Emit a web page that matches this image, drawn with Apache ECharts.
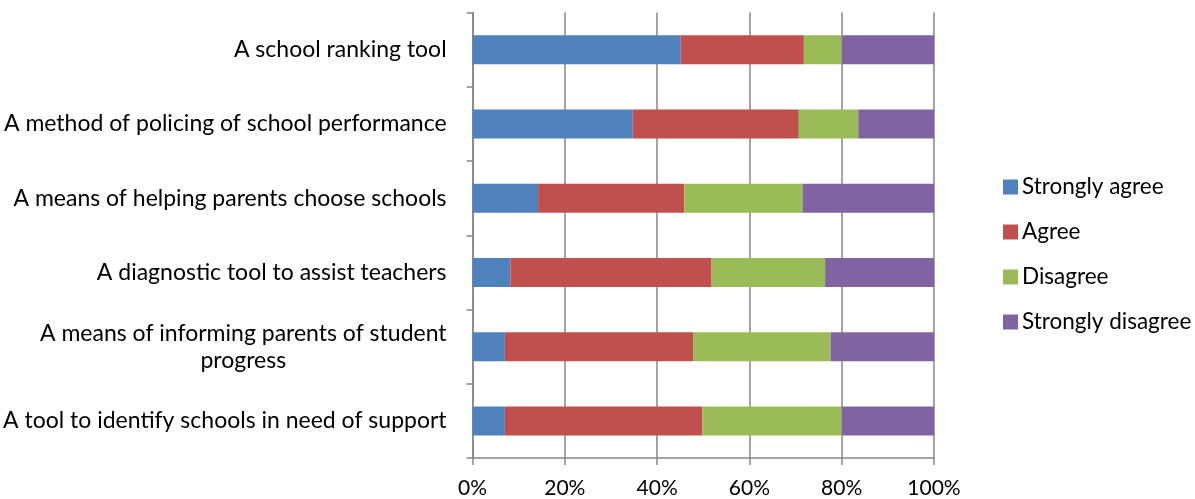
<!DOCTYPE html>
<html>
<head>
<meta charset="utf-8">
<title>School ranking survey</title>
<script src="https://cdn.jsdelivr.net/npm/echarts@6/dist/echarts.min.js"></script>
<style>
    html, body { margin: 0; padding: 0; background: #fff; }
    #chart { width: 1195px; height: 499px; }
</style>
</head>
<body>
<div id="chart"></div>
<script>
// categories, top to bottom
var categories = [
    'A school ranking tool',
    'A method of policing of school performance',
    'A means of helping parents choose schools',
    'A diagnostic tool to assist teachers',
    'A means of informing parents of student\nprogress',
    'A tool to identify schools in need of support'
]
var seriesNames = ['Strongly agree', 'Agree', 'Disagree', 'Strongly disagree']
// percentages
var stronglyAgree = [45.1, 34.7, 14.2, 8.2, 7.0, 7.0]
var agree = [26.7, 36.0, 31.7, 43.6, 40.8, 42.8]
var disagree = [8.2, 12.9, 25.6, 24.6, 29.8, 30.2]
var stronglyDisagree = [20.0, 16.4, 28.5, 23.6, 22.4, 20.0]
var xTicks = [0, 20, 40, 60, 80, 100]

var colors = ['#4F81BD', '#C0504D', '#9BBB59', '#8064A2']
var font = 'Lato, "Open Sans", sans-serif'
var gridGray = '#868686'

var values = [stronglyAgree, agree, disagree, stronglyDisagree]
var series = seriesNames.map(function (name, i) {
    return {
        name: name,
        type: 'bar',
        stack: 'total',
        barWidth: 29,
        itemStyle: { color: colors[i] },
        data: values[i]
    }
})

var myChart = echarts.init(document.getElementById('chart'))
var option = {
    animation: false,
    color: colors,
    grid: { left: 472, right: 261, top: 12.5, bottom: 41 },
    legend: {
        orient: 'vertical',
        left: 1003,
        top: 175.5,
        padding: 0,
        itemWidth: 15,
        itemHeight: 15,
        itemGap: 22,
        icon: 'rect',
        textStyle: { fontFamily: font, fontSize: 22.5, color: '#000', padding: [0, 0, 0, -1] },
        data: seriesNames
    },
    xAxis: {
        type: 'value',
        min: xTicks[0],
        max: xTicks[xTicks.length - 1],
        interval: 20,
        axisLine: { show: true, lineStyle: { color: gridGray, width: 1.5 } },
        axisTick: { show: true, length: 7, lineStyle: { color: gridGray, width: 1.5 } },
        splitLine: { show: true, lineStyle: { color: gridGray, width: 1.5 } },
        axisLabel: {
            margin: 20,
            fontFamily: font,
            fontSize: 21,
            color: '#000',
            formatter: '{value}%'
        }
    },
    yAxis: {
        type: 'category',
        inverse: true,
        data: categories,
        axisLine: { show: true, lineStyle: { color: gridGray, width: 1.5 } },
        axisTick: { show: true, length: 6, lineStyle: { color: gridGray, width: 1.5 } },
        axisLabel: {
            margin: 26,
            color: '#000',
            fontFamily: font,
            fontSize: 23,
            formatter: function (v) {
                // wrapped lines are centred on each other, as in the original
                return v.split('\n').map(function (s) { return '{c|' + s + '}' }).join('\n')
            },
            rich: {
                c: { align: 'center', fontFamily: font, fontSize: 23, color: '#000', lineHeight: 27 }
            }
        }
    },
    series: series
}
myChart.setOption(option)
</script>
</body>
</html>
